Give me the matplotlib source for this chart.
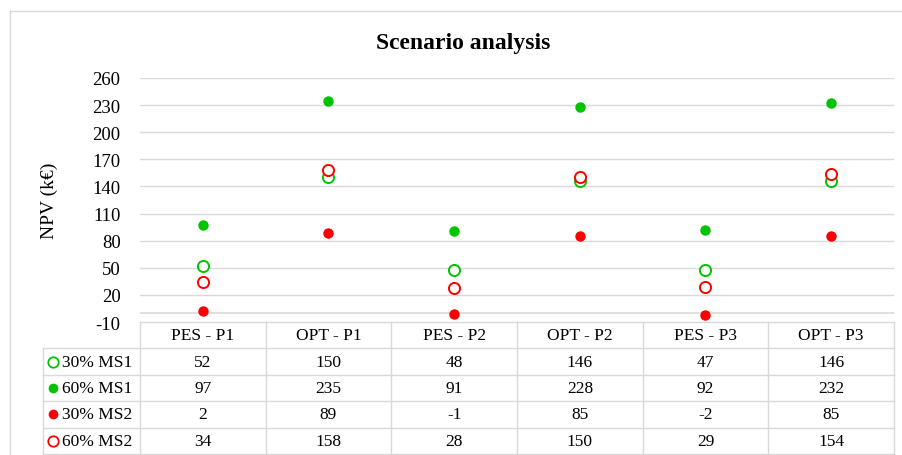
import matplotlib
matplotlib.use("Agg")
import matplotlib.pyplot as plt
from matplotlib.lines import Line2D

plt.rcParams['font.family'] = ['Liberation Serif', 'DejaVu Serif']
plt.rcParams['axes.unicode_minus'] = False

categories = ["PES - P1", "OPT - P1", "PES - P2", "OPT - P2", "PES - P3", "OPT - P3"]
series_names = ["30% MS1", "60% MS1", "30% MS2", "60% MS2"]
ms1_30 = [52, 150, 48, 146, 47, 146]
ms1_60 = [97, 235, 91, 228, 92, 232]
ms2_30 = [2, 89, -1, 85, -2, 85]
ms2_60 = [34, 158, 28, 150, 29, 154]
yticks = [-10, 20, 50, 80, 110, 140, 170, 200, 230, 260]

GREEN = '#00c400'
RED = '#ff0000'
GRID = '#d9d9d9'
series = [
    (ms1_30, GREEN, False),
    (ms1_60, GREEN, True),
    (ms2_30, RED, True),
    (ms2_60, RED, False),
]

W, H = 903, 456
fig = plt.figure(figsize=(W / 100, H / 100), dpi=100)

def fx(px):
    return px / W

def fy(py):
    return 1 - py / H

# chart area border (left and top)
fig.add_artist(Line2D([fx(10), fx(10)], [fy(12), 0], color='#d9d9d9', lw=1.0))
fig.add_artist(Line2D([fx(10), 1], [fy(12), fy(12)], color='#d9d9d9', lw=1.0))

# plot area
pl, pr, pt, pb = 140, 894, 79, 323
ax = fig.add_axes([fx(pl), fy(pb), fx(pr - pl), (pb - pt) / H])
n = len(categories)
ax.set_xlim(-0.5, n - 0.5)
ax.set_ylim(yticks[0], yticks[-1])
ax.set_yticks(yticks)
ax.set_xticks([])
for y in yticks[1:]:
    ax.axhline(y, color=GRID, lw=1.0, zorder=1)
ax.axhline(0, color=GRID, lw=1.2, zorder=1)
for s in ax.spines.values():
    s.set_visible(False)
ax.tick_params(axis='y', length=0, pad=14, labelsize=13.5)
ax.patch.set_alpha(0)

xs = list(range(n))
for vals, col, filled in series:
    if filled:
        ax.plot(xs, vals, 'o', ls='none', ms=7.5, mfc=col, mec=col, mew=0, zorder=3, clip_on=False)
    else:
        ax.plot(xs, vals, 'o', ls='none', ms=8, mfc='white', mec=col, mew=1.4, zorder=3, clip_on=False)

ax.set_ylabel("NPV (k€)", fontsize=14)
ax.yaxis.set_label_coords((58 - pl) / (pr - pl), (pb - 201) / (pb - pt))

fig.text(fx(463), fy(43), "Scenario analysis", ha='center', va='center',
         fontsize=17, fontweight='bold')

# data table
tl, tr, tt, tb = 43, 894, 323, 455
col_w = (pr - pl) / n
lab_w = (pl - tl) / col_w
tax = fig.add_axes([fx(tl), fy(tb), fx(tr - tl), (tb - tt) / H])
xmin = -0.5 - lab_w
tax.set_xlim(xmin, n - 0.5)
nrows = len(series) + 1
tax.set_ylim(nrows, 0)
tax.axis('off')
lkw = dict(color=GRID, lw=1.0, clip_on=False)
tax.plot([-0.5, n - 0.5], [0, 0], **lkw)
for r in range(1, nrows + 1):
    tax.plot([xmin, n - 0.5], [r, r], **lkw)
tax.plot([xmin, xmin], [1, nrows], **lkw)
for k in range(n + 1):
    tax.plot([k - 0.5, k - 0.5], [0, nrows], **lkw)

TFS = 12.5
for i, c in enumerate(categories):
    tax.text(i, 0.5, c, ha='center', va='center', fontsize=TFS)
for r, (name, (vals, col, filled)) in enumerate(zip(series_names, series), start=1):
    mx = xmin + 10 / col_w
    if filled:
        tax.plot([mx], [r + 0.5], 'o', ms=7, mfc=col, mec=col, mew=0)
    else:
        tax.plot([mx], [r + 0.5], 'o', ms=7.5, mfc='white', mec=col, mew=1.3)
    tax.text(xmin + 19 / col_w, r + 0.5, name, ha='left', va='center', fontsize=TFS)
    for i, v in enumerate(vals):
        tax.text(i, r + 0.5, str(v), ha='center', va='center', fontsize=TFS)

fig.savefig("out.png", dpi=100)
